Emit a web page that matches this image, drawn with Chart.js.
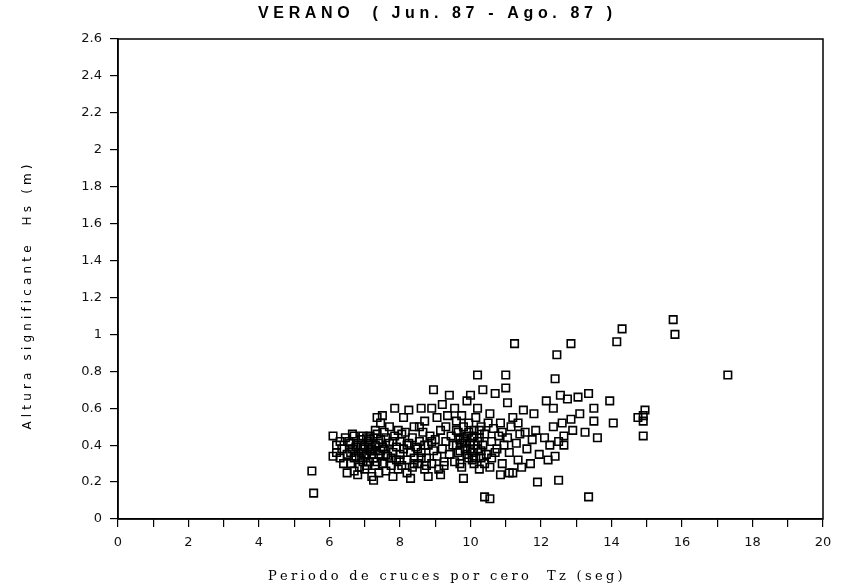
<!DOCTYPE html>
<html>
<head>
<meta charset="utf-8">
<script src="https://cdn.jsdelivr.net/npm/chart.js@4/dist/chart.umd.min.js"></script>
<style>
  body { margin: 0; background: #fff; }
</style>
</head>
<body>
<canvas id="scatter" width="841" height="588"></canvas>
<script>
// Tz (seg) and Hs (m)
var tz = [
  5.50, 5.55, 6.10, 6.20, 6.10, 6.30, 6.35, 6.40, 6.45, 6.20, 6.50, 6.50, 6.30,
  6.55, 6.60, 6.65, 6.70, 6.70, 6.75, 6.80, 6.85, 6.90, 6.90, 6.95, 6.60, 6.70, 6.80, 6.95, 6.65,
  7.00, 7.05, 7.10, 7.10, 7.15, 7.20, 7.20, 7.25, 7.30, 7.30, 7.35, 7.35, 7.40, 7.40, 7.45, 7.45, 7.00, 7.15, 7.30, 7.25, 7.05,
  7.50, 7.50, 7.55, 7.60, 7.60, 7.65, 7.70, 7.70, 7.75, 7.80, 7.80, 7.85, 7.85, 7.90, 7.90, 7.95, 7.55, 7.75, 7.95,
  8.00, 8.00, 8.05, 8.10, 8.10, 8.15, 8.20, 8.20, 8.25, 8.25, 8.30, 8.35, 8.35, 8.40, 8.40, 8.45, 8.05, 8.30,
  8.50, 8.55, 8.60, 8.60, 8.65, 8.70, 8.70, 8.75, 8.80, 8.80, 8.85, 8.90, 8.90, 8.95, 8.95, 8.55, 8.75,
  9.00, 9.05, 9.10, 9.15, 9.15, 9.20, 9.20, 9.25, 9.30, 9.30, 9.35, 9.40, 9.40, 9.45, 9.05, 9.25,
  9.50, 9.55, 9.55, 9.60, 9.65, 9.70, 9.75, 9.75, 9.80, 9.80, 9.85, 9.90, 9.90, 9.95, 10.00, 9.60, 9.70, 9.85, 9.95, 9.65,
  10.00, 10.05, 10.10, 10.10, 10.15, 10.20, 10.20, 10.20, 10.25, 10.30, 10.30, 10.35, 10.35, 10.40, 10.40, 10.45, 10.55, 10.50, 10.05, 10.15, 10.25, 10.40, 10.10,
  10.55, 10.60, 10.60, 10.65, 10.70, 10.75, 10.80, 10.85, 10.85, 10.90, 10.95, 10.55, 10.70, 10.90,
  11.00, 11.00, 11.05, 11.05, 11.10, 11.15, 11.20, 11.25, 11.30, 11.35, 11.40, 11.45, 11.50, 11.20, 11.35, 11.10,
  11.55, 11.60, 11.70, 11.75, 11.80, 11.85, 11.90, 11.95,
  12.10, 12.15, 12.20, 12.25, 12.35, 12.35, 12.40, 12.40, 12.45, 12.50, 12.50,
  12.55, 12.60, 12.65, 12.65, 12.75, 12.85, 12.85, 12.90,
  13.05, 13.10, 13.25, 13.35, 13.35, 13.50, 13.50, 13.60, 13.95, 14.05,
  14.15, 14.30, 14.75, 14.90, 14.95, 14.90, 14.90, 15.75, 15.80, 17.30,
  6.60, 6.75, 6.85, 7.00, 7.10, 7.20, 7.30, 7.40, 7.50, 7.60, 6.90, 7.05, 7.35, 7.15, 6.95, 7.45,
  9.60, 9.70, 9.80, 9.90, 10.00, 10.10, 10.20, 10.30, 9.75, 9.95, 10.05, 10.25,
  8.50, 8.70, 8.90, 8.40, 8.20, 8.00, 7.80, 8.60
];
var hs = [
  0.26, 0.14, 0.45, 0.36, 0.34, 0.42, 0.38, 0.30, 0.44, 0.40, 0.25, 0.35, 0.33,
  0.42, 0.30, 0.38, 0.26, 0.45, 0.34, 0.40, 0.28, 0.36, 0.43, 0.31, 0.41, 0.33, 0.24, 0.38, 0.46,
  0.27, 0.35, 0.42, 0.31, 0.45, 0.38, 0.23, 0.33, 0.29, 0.40, 0.46, 0.55, 0.35, 0.25, 0.43, 0.52, 0.39, 0.37, 0.48, 0.21, 0.44,
  0.30, 0.56, 0.38, 0.44, 0.26, 0.34, 0.41, 0.50, 0.29, 0.36, 0.23, 0.45, 0.60, 0.32, 0.39, 0.48, 0.47, 0.33, 0.27,
  0.35, 0.42, 0.29, 0.55, 0.38, 0.47, 0.32, 0.25, 0.59, 0.41, 0.36, 0.44, 0.28, 0.50, 0.33, 0.39, 0.46, 0.22,
  0.30, 0.42, 0.60, 0.36, 0.47, 0.27, 0.53, 0.33, 0.40, 0.23, 0.45, 0.60, 0.30, 0.70, 0.37, 0.50, 0.29,
  0.43, 0.34, 0.27, 0.24, 0.48, 0.62, 0.38, 0.31, 0.50, 0.42, 0.56, 0.67, 0.35, 0.45, 0.55, 0.29,
  0.40, 0.60, 0.31, 0.48, 0.36, 0.43, 0.56, 0.28, 0.22, 0.50, 0.38, 0.64, 0.45, 0.33, 0.67, 0.53, 0.30, 0.42, 0.52, 0.47,
  0.41, 0.36, 0.48, 0.30, 0.55, 0.78, 0.60, 0.38, 0.44, 0.33, 0.50, 0.70, 0.40, 0.12, 0.46, 0.35, 0.11, 0.52, 0.44, 0.33, 0.27, 0.30, 0.40,
  0.57, 0.42, 0.33, 0.49, 0.68, 0.38, 0.45, 0.24, 0.52, 0.30, 0.40, 0.28, 0.36, 0.47,
  0.78, 0.71, 0.63, 0.44, 0.36, 0.50, 0.25, 0.95, 0.41, 0.32, 0.46, 0.28, 0.59, 0.55, 0.52, 0.25,
  0.47, 0.38, 0.30, 0.43, 0.57, 0.48, 0.20, 0.35,
  0.44, 0.64, 0.32, 0.40, 0.60, 0.50, 0.76, 0.34, 0.89, 0.21, 0.42,
  0.67, 0.52, 0.45, 0.40, 0.65, 0.54, 0.95, 0.48,
  0.66, 0.57, 0.47, 0.68, 0.12, 0.60, 0.53, 0.44, 0.64, 0.52,
  0.96, 1.03, 0.55, 0.56, 0.59, 0.53, 0.45, 1.08, 1.00, 0.78,
  0.36, 0.39, 0.33, 0.34, 0.40, 0.35, 0.37, 0.41, 0.39, 0.35, 0.40, 0.29, 0.31, 0.43, 0.45, 0.37,
  0.40, 0.37, 0.44, 0.35, 0.38, 0.45, 0.42, 0.37, 0.41, 0.47, 0.32, 0.48,
  0.38, 0.40, 0.42, 0.30, 0.40, 0.32, 0.42, 0.33
];
var xTicksLabelled = [0, 2, 4, 6, 8, 10, 12, 14, 16, 18, 20];

var titleText = 'VERANO  ( Jun. 87 - Ago. 87 )';
var xTitleText = 'Periodo de cruces por cero  Tz (seg)';
var yTitleText = 'Altura significante  Hs (m)';

var points = tz.map(function(t, i){ return {x: t, y: hs[i]}; });

// draws text char by char, stretched to a given width (old plotter lettering)
function spacedText(ctx, text, cx, cy, width){
    var natural = ctx.measureText(text).width;
    var extra = (width - natural) / (text.length - 1);
    var x = cx - width / 2;
    for (var i = 0; i < text.length; i++){
        ctx.fillText(text[i], x, cy);
        x += ctx.measureText(text[i]).width + extra;
    }
}

var frame = {
    id: 'frame',
    afterDraw: function(chart){
        var ctx = chart.ctx, a = chart.chartArea;
        ctx.save();
        ctx.strokeStyle = '#000';
        ctx.lineWidth = 1.5;
        ctx.strokeRect(a.left, a.top, a.right - a.left, a.bottom - a.top);

        ctx.fillStyle = '#000';
        ctx.textBaseline = 'middle';
        ctx.textAlign = 'left';
        ctx.font = 'bold 16px "Liberation Sans", Arial, sans-serif';
        spacedText(ctx, titleText, 435, 14, 354);

        ctx.font = '13px "DejaVu Serif", serif';
        spacedText(ctx, xTitleText, 445, 577, 354);

        ctx.translate(28, 297);
        ctx.rotate(-Math.PI / 2);
        ctx.font = '12px "DejaVu Sans", sans-serif';
        spacedText(ctx, yTitleText, 0, 0, 265);
        ctx.restore();
    }
};

var tickFont = {family: '"DejaVu Sans", sans-serif', size: 13};

new Chart(document.getElementById('scatter').getContext('2d'), {
    type: 'scatter',
    data: {
        datasets: [{
            data: points,
            pointStyle: 'rect',
            pointRadius: 5.3,
            pointBorderWidth: 1.6,
            borderColor: '#000',
            backgroundColor: 'rgba(0,0,0,0)'
        }]
    },
    options: {
        responsive: false,
        animation: false,
        layout: {padding: {left: 58, right: 18, top: 39, bottom: 35}},
        plugins: {
            legend: {display: false},
            title: {display: false},
            tooltip: {enabled: false}
        },
        scales: {
            x: {
                type: 'linear',
                min: 0,
                max: 20,
                afterFit: function(scale){ scale.height = 34; },
                border: {color: '#000', width: 1.5},
                grid: {drawOnChartArea: false, color: '#000', tickLength: 8, lineWidth: 1.2},
                ticks: {
                    stepSize: 1,
                    autoSkip: false,
                    maxRotation: 0,
                    padding: 8,
                    color: '#111',
                    font: tickFont,
                    callback: function(v){ return xTicksLabelled.indexOf(v) >= 0 ? String(v) : ''; }
                }
            },
            y: {
                min: 0,
                max: 2.6,
                afterFit: function(scale){ scale.width = 60; },
                border: {color: '#000', width: 1.5},
                grid: {drawOnChartArea: false, color: '#000', tickLength: 8, lineWidth: 1.2},
                ticks: {
                    stepSize: 0.2,
                    padding: 8,
                    color: '#111',
                    font: tickFont,
                    callback: function(v){ return String(Math.round(v * 10) / 10); }
                }
            }
        }
    },
    plugins: [frame]
});
</script>
</body>
</html>
